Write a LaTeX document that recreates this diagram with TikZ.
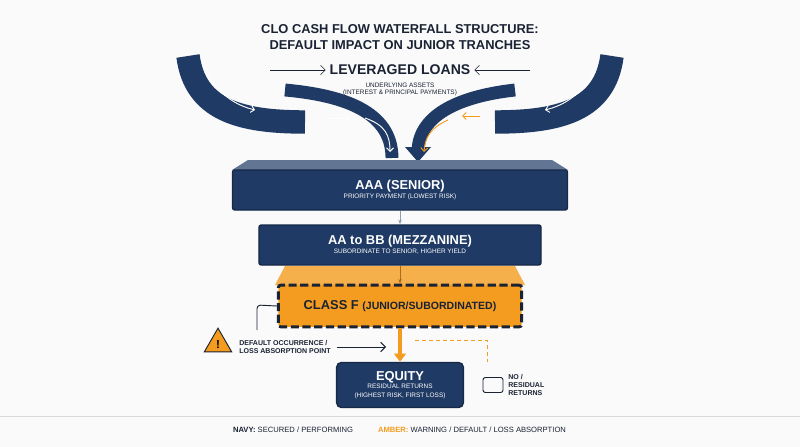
\documentclass[tikz,border=0pt]{standalone}
\usepackage{fontspec}
\setmainfont{Liberation Sans}
\usetikzlibrary{positioning,arrows.meta,shapes.geometric}
\definecolor{navy}{HTML}{1F3A64}
\definecolor{amber}{HTML}{F39C1F}
\definecolor{ink}{HTML}{1A2233}
\tikzset{
  tranche/.style={draw=navy!70!black, fill=navy, very thick, rectangle, rounded corners=2pt, text=white, align=center, inner sep=2pt, font=\fontsize{5.5}{7.5}\selectfont},
  lbl/.style={font=\bfseries\fontsize{6}{7}\selectfont, text=ink, align=left, inner sep=0pt},
  band/.style={navy, line width=20pt},
  flow/.style={white, thick, -{Straight Barb[length=3pt]}},
}
\begin{document}
\begin{tikzpicture}[x=0.03cm,y=-0.03cm]
\useasboundingbox[fill=gray!4] (0,0) rectangle (800,447);

% title
\node[font=\bfseries\fontsize{11}{13}\selectfont, text=ink, align=center] (title) at (400,37) {CLO CASH FLOW WATERFALL STRUCTURE:\\DEFAULT IMPACT ON JUNIOR TRANCHES};

% outer bands
\draw[band] (188,56) .. controls (195,110) and (240,122) .. (305,122);
\draw[band] (612,56) .. controls (605,110) and (560,122) .. (495,122);
\draw[flow] (205,72) .. controls (220,95) and (235,105) .. (255,110);
\draw[flow] (595,72) .. controls (580,95) and (565,105) .. (545,110);
% inner bands
\draw[band, line width=11pt] (285,90) .. controls (340,95) and (392,110) .. (392,158);
\draw[band, line width=11pt] (515,90) .. controls (470,95) and (420,110) .. (418,150);
\fill[navy] (405,147) -- (431,147) -- (418,162) -- cycle;
\draw[flow] (330,118) -- (350,118);
\draw[flow] (365,118) .. controls (385,125) and (390,135) .. (390,152);
\draw[amber, thick, -{Straight Barb[length=3pt]}] (480,116) -- (462,116);
\draw[amber, thick, -{Straight Barb[length=3pt]}] (448,120) .. controls (430,128) and (425,138) .. (424,152);

% source
\node[font=\bfseries\fontsize{12}{14}\selectfont, text=ink] (loans) at (400,70) {LEVERAGED LOANS};
\node[align=center, text=ink, inner sep=0pt, font=\fontsize{5.5}{6.5}\selectfont] (assets) [below=3pt of loans] {UNDERLYING ASSETS\\(INTEREST \& PRINCIPAL PAYMENTS)};
\draw[ink, -{Straight Barb[length=4pt]}] (270,70) -- (loans.west);
\draw[ink, -{Straight Barb[length=4pt]}] (530,70) -- (loans.east);

% tranches
\fill[navy!70] (248,160) -- (552,160) -- (568,170) -- (232,170) -- cycle;
\node[tranche, minimum width=10.05cm, minimum height=1.2cm] (aaa) at (400,190) {{\bfseries\fontsize{11}{13}\selectfont AAA (SENIOR)}\\PRIORITY PAYMENT (LOWEST RISK)};
\node[tranche, minimum width=8.46cm, minimum height=1.2cm] (mezz) at (400,245) {{\bfseries\fontsize{11}{13}\selectfont AA to BB (MEZZANINE)}\\SUBORDINATE TO SENIOR, HIGHER YIELD};
\draw[navy!50, thick, -{Stealth[length=4pt]}] (aaa) -- (mezz);

\fill[amber!80] (285,266) -- (515,266) -- (525,285) -- (275,285) -- cycle;
\node[tranche, fill=amber, draw=ink, line width=2.5pt, dash pattern=on 7pt off 3pt, text=ink, minimum width=7.3cm, minimum height=1.25cm] (classf) at (400,306) {\bfseries\fontsize{11}{12}\selectfont CLASS F {\fontsize{9}{10}\selectfont(JUNIOR/SUBORDINATED)}};
\draw[amber!70!black, thick, -{Stealth[length=4pt]}] (mezz) -- (classf);

\node[tranche, minimum width=3.8cm, minimum height=1.35cm, rounded corners=4pt] (equity) at (400,385) {{\bfseries\fontsize{11}{13}\selectfont EQUITY}\\RESIDUAL RETURNS\\(HIGHEST RISK, FIRST LOSS)};
\draw[amber, line width=3pt, -{Triangle[length=7pt,width=10pt]}] (classf) -- (equity);

% default marker
\node[draw=ink, fill=amber, thick, regular polygon, regular polygon sides=3, minimum size=0.95cm, inner sep=0pt, font=\bfseries] (warn) at (218,344) {!};
\node[lbl] (default) at (285,347) {DEFAULT OCCURRENCE /\\LOSS ABSORPTION POINT};
\draw[ink, thick, -{Straight Barb[length=4pt]}] (default.east) ++(5pt,0) -- (386,347);
\coordinate (bend) at (257,305);
\draw[ink, thick, rounded corners=3pt] (classf.west) -- (bend) -- (257,330);

% no residual
\coordinate (drip) at (415,340);
\draw[amber, thick, dashed] (drip) -- (487,340) -- (487,362);
\node[draw=ink, thick, rounded corners=2pt, minimum width=0.6cm, minimum height=0.45cm] (wallet) at (493,385) {};
\node[lbl] (nores) [right=4pt of wallet] {NO /\\RESIDUAL\\RETURNS};

% legend
\draw[gray!30] (0,416) -- (800,416);
\node[font=\fontsize{6.5}{7.5}\selectfont, text=ink] (navyk) at (293,430) {\textbf{NAVY:} SECURED / PERFORMING};
\node[font=\fontsize{6.5}{7.5}\selectfont, text=ink] (amberk) at (472,430) {\textcolor{amber}{\textbf{AMBER:}} WARNING / DEFAULT / LOSS ABSORPTION};
\end{tikzpicture}
\end{document}
